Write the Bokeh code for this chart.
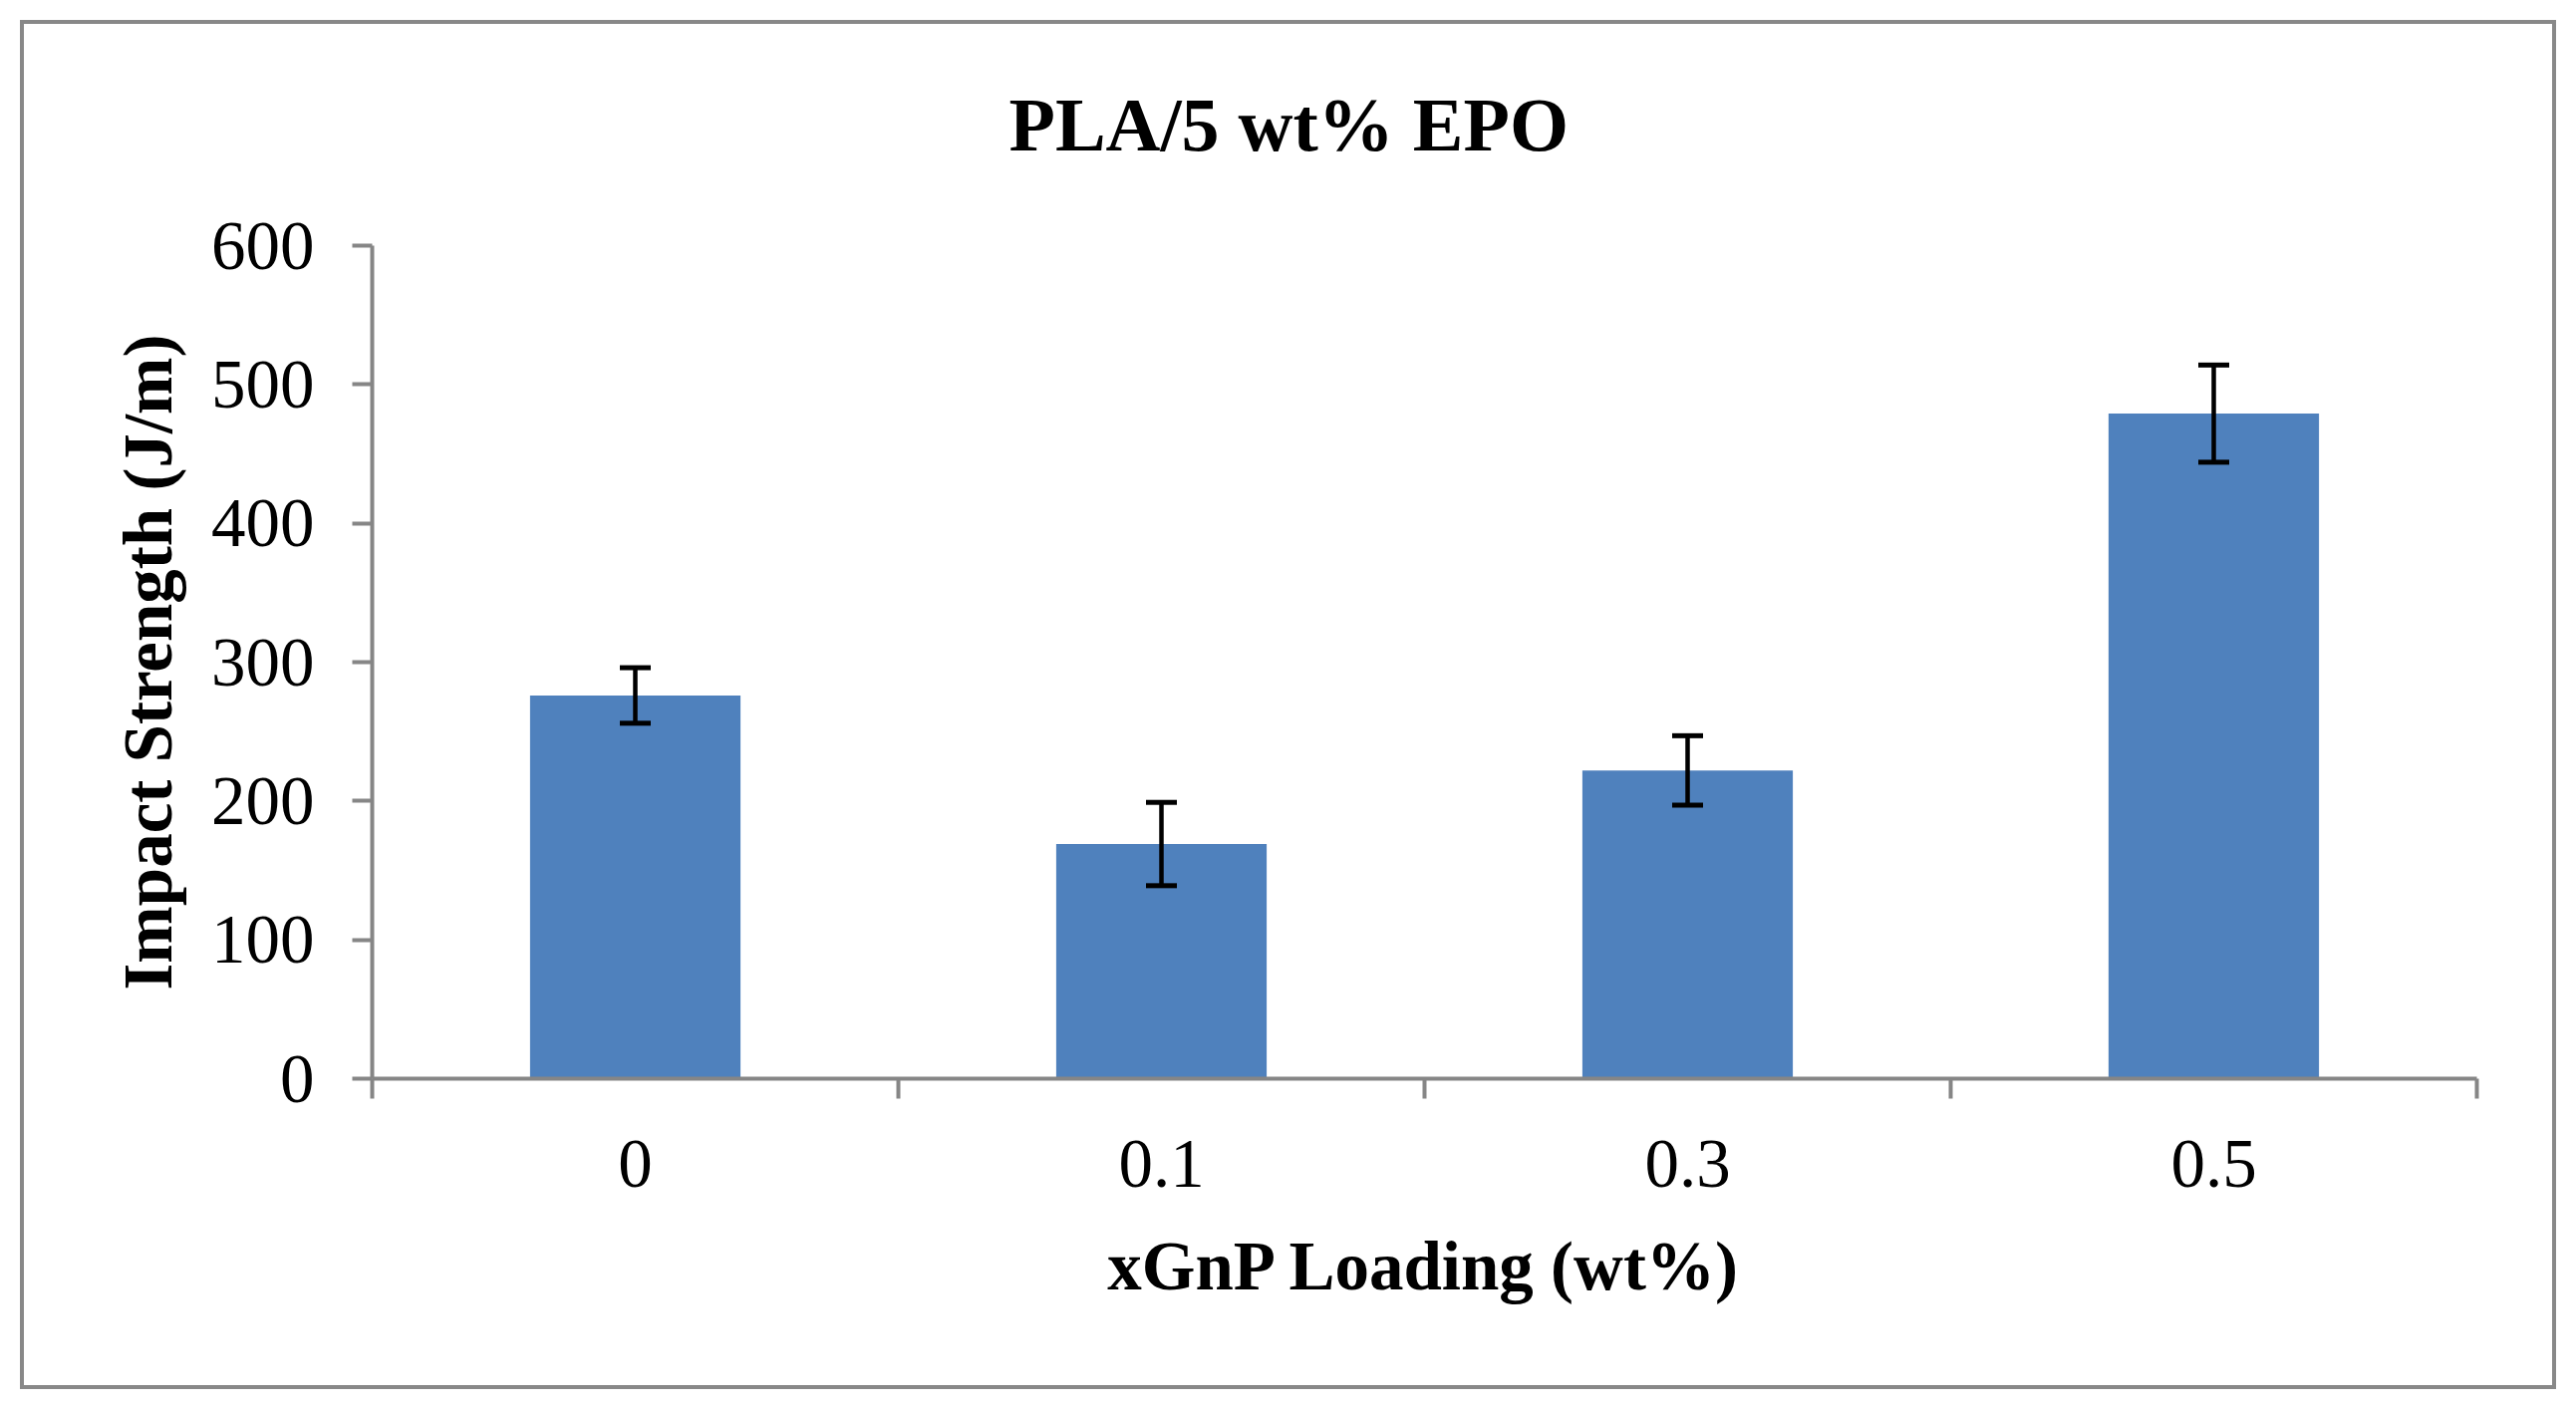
from bokeh.plotting import figure
from bokeh.models import ColumnDataSource, FixedTicker, Whisker, TeeHead, Range1d
from bokeh.embed import file_html
from bokeh.resources import INLINE

# ---- data ----
categories = ["0", "0.1", "0.3", "0.5"]
impact_strength = [276, 169, 222, 479]
error = [20, 30, 25, 35]
y_ticks = [0, 100, 200, 300, 400, 500, 600]
title_text = "PLA/5 wt% EPO"
x_label = "xGnP Loading (wt%)"
y_label = "Impact Strength (J/m)"

xpos = [i + 0.5 for i in range(len(categories))]
boundaries = [float(i) for i in range(len(categories) + 1)]
src = ColumnDataSource(dict(
    x=xpos,
    top=impact_strength,
    upper=[v + e for v, e in zip(impact_strength, error)],
    lower=[v - e for v, e in zip(impact_strength, error)],
))

FONT = "Liberation Serif"
GRAY = "#868686"
W, H = 2585, 1414

p = figure(width=W, height=H, output_backend="svg", toolbar_location=None,
           x_range=Range1d(0, len(categories)), y_range=Range1d(0, 600),
           min_border_left=373, min_border_right=100, min_border_top=246, min_border_bottom=332)
p.background_fill_color = None
p.border_fill_color = None
p.outline_line_color = None
p.grid.visible = False
p.styles = {"outline": "4px solid #888888", "outline-offset": "-24px"}

p.vbar(x="x", top="top", bottom=0, width=0.4, source=src,
       fill_color="#4F81BD", line_color=None)

w = Whisker(base="x", upper="upper", lower="lower", source=src,
            line_color="black", line_width=4.5, level="overlay",
            upper_head=TeeHead(size=31, line_color="black", line_width=5),
            lower_head=TeeHead(size=31, line_color="black", line_width=5))
p.add_layout(w)

# x axis
xa = p.xaxis[0]
xa.ticker = FixedTicker(ticks=xpos, minor_ticks=boundaries)
xa.major_label_overrides = {x: c for x, c in zip(xpos, categories)}
xa.major_tick_line_color = None
xa.major_tick_out = 20
xa.major_tick_in = 0
xa.minor_tick_out = 20
xa.minor_tick_in = 0
xa.minor_tick_line_color = GRAY
xa.minor_tick_line_width = 4
xa.axis_line_color = GRAY
xa.axis_line_width = 4
xa.major_label_text_font = FONT
xa.major_label_text_font_size = "69px"
xa.major_label_text_color = "black"
xa.major_label_standoff = 42
xa.axis_label = x_label
xa.axis_label_text_font = FONT
xa.axis_label_text_font_size = "69px"
xa.axis_label_text_font_style = "bold"
xa.axis_label_text_color = "black"
xa.axis_label_standoff = 39

# y axis
ya = p.yaxis[0]
ya.ticker = FixedTicker(ticks=y_ticks)
ya.major_tick_out = 20
ya.major_tick_in = 0
ya.major_tick_line_color = GRAY
ya.major_tick_line_width = 4
ya.minor_tick_line_color = None
ya.axis_line_color = GRAY
ya.axis_line_width = 4
ya.major_label_text_font = FONT
ya.major_label_text_font_size = "69px"
ya.major_label_text_color = "black"
ya.major_label_standoff = 38
ya.axis_label = y_label
ya.axis_label_text_font = FONT
ya.axis_label_text_font_size = "69px"
ya.axis_label_text_font_style = "bold"
ya.axis_label_text_color = "black"
ya.axis_label_standoff = 22

# title
p.title.text = title_text
p.title.text_font = FONT
p.title.text_font_size = "76px"
p.title.text_font_style = "bold"
p.title.text_color = "black"
p.title.align = "left"
p.title.offset = 639
p.title.standoff = 160

open("out.html", "w").write(file_html(p, INLINE))
